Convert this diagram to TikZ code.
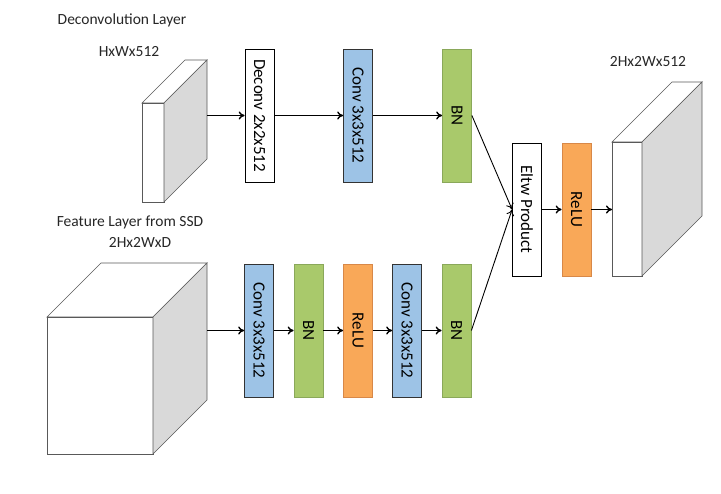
\documentclass[tikz,border=0pt]{standalone}
\usepackage{fontspec}
\usepackage{graphicx}
\setmainfont{Carlito}
\usetikzlibrary{arrows.meta}

\definecolor{convblue}{HTML}{9DC3E6}
\definecolor{bngreen}{HTML}{A9C96B}
\definecolor{bnline}{HTML}{8AA85A}
\definecolor{reluorange}{HTML}{F9A858}
\definecolor{reluline}{HTML}{D88848}
\definecolor{sidegray}{HTML}{D9D9D9}

\tikzset{
  layer/.style={draw, line width=0.8pt, minimum width=29pt, minimum height=133pt,
    inner sep=0pt, font=\fontsize{17}{20}\selectfont},
  conv/.style={layer, fill=convblue, draw=black!80},
  bn/.style={layer, fill=bngreen, draw=bnline},
  relu/.style={layer, fill=reluorange, draw=reluline},
  plain/.style={layer, fill=white},
  face/.style={draw=black!65, line width=0.7pt, inner sep=0pt, outer sep=0pt},
  flow/.style={-{To[length=6pt,width=8pt]}, line width=1.4pt},
  merge/.style={-{To[length=6pt,width=8pt]}, line width=0.9pt},
  caption/.style={font=\fontsize{15.5}{18}\selectfont, text=black!85}
}

\begin{document}
\begin{tikzpicture}[x=1pt,y=-1pt]
\useasboundingbox (0,0) rectangle (721,494);

% the three blocks (front face, top, side)
\foreach \n/\x/\y/\w/\h/\d in {inA/153/152.5/22/99/43, inB/100/385.5/106/137/54, outC/627/209/30/134/60}
{
  \node[face, fill=white, minimum width=\w pt, minimum height=\h pt] (\n) at (\x,\y) {};
  \filldraw[face, fill=white] (\n.north west) -- ++(\d,-\d) -- ++(\w,0) -- (\n.north east) -- cycle;
  \filldraw[face, fill=sidegray] (\n.north east) -- ++(\d,-\d) -- ++(0,\h) -- (\n.south east) -- cycle;
}

\coordinate (outA) at (207,115.5);
\coordinate (outB) at (207,330.5);

% upper branch
\node[plain] (deconv) at (259.5,115.5) {\rotatebox{-90}{Deconv 2x2x512}};
\node[conv] (convA) at (358,115.5) {\rotatebox{-90}{Conv 3x3x512}};
\node[bn] (bnA) at (457,115.5) {\rotatebox{-90}{BN}};

% lower branch
\node[conv] (convB) at (259,330.5) {\rotatebox{-90}{Conv 3x3x512}};
\node[bn] (bnB) at (308.5,330.5) {\rotatebox{-90}{BN}};
\node[relu] (reluB) at (358,330.5) {\rotatebox{-90}{ReLU}};
\node[conv] (convC) at (407,330.5) {\rotatebox{-90}{Conv 3x3x512}};
\node[bn] (bnC) at (456.5,330.5) {\rotatebox{-90}{BN}};

% merge
\node[plain] (eltw) at (527,209.5) {\rotatebox{-90}{Eltw Product}};
\node[relu] (reluC) at (576.5,209.5) {\rotatebox{-90}{ReLU}};

\draw[flow] (outA) -- (deconv);
\draw[flow] (deconv) -- (convA);
\draw[flow] (convA) -- (bnA);
\draw[flow] (outB) -- (convB);
\draw[flow] (convB) -- (bnB);
\draw[flow] (bnB) -- (reluB);
\draw[flow] (reluB) -- (convC);
\draw[flow] (convC) -- (bnC);
\draw[merge] (bnA.east) -- (eltw.west);
\draw[merge] (bnC.east) -- (eltw.west);
\draw[flow] (eltw) -- (reluC);
\draw[flow] (reluC) -- (outC.west |- reluC);

\node[caption] (tdec) at (122,20) {Deconvolution Layer};
\node[caption] (tdim) at (129,52) {HxWx512};
\node[caption] (tfeat) at (130,222) {Feature Layer from SSD};
\node[caption] (tfdim) at (140,242) {2Hx2WxD};
\node[caption] (tout) at (648,62) {2Hx2Wx512};

\end{tikzpicture}
\end{document}
